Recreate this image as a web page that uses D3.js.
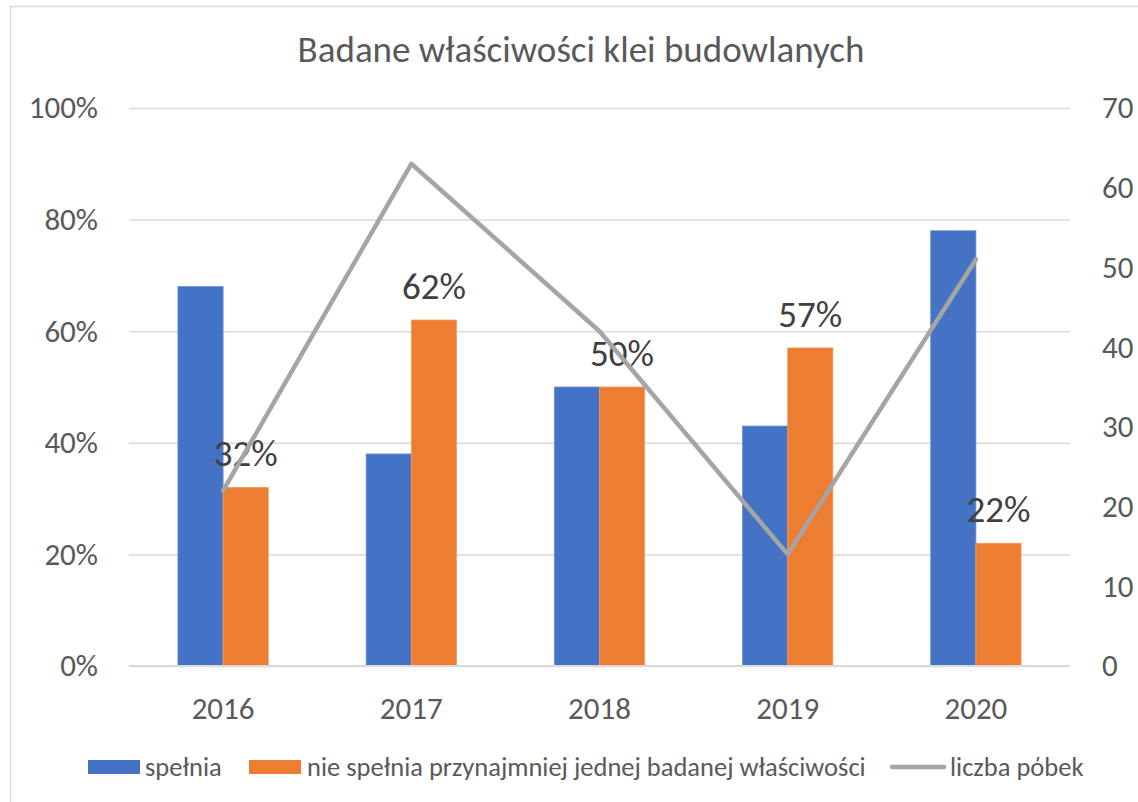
<!DOCTYPE html>
<html>
<head>
<meta charset="utf-8">
<script src="https://cdn.jsdelivr.net/npm/d3@7"></script>
<style>
  body { margin: 0; background: #fff; }
  svg text { font-family: Calibri, Carlito, Lato, sans-serif; }
</style>
</head>
<body>
<svg id="chart" width="1138" height="802"></svg>
<script>
var years = ["2016", "2017", "2018", "2019", "2020"];
var spelnia = [0.68, 0.38, 0.50, 0.43, 0.78];
var nieSpelnia = [0.32, 0.62, 0.50, 0.57, 0.22];
var liczbaProbek = [22, 63, 42, 14, 51];
var leftTicks = [0, 0.2, 0.4, 0.6, 0.8, 1.0];
var rightTicks = [0, 10, 20, 30, 40, 50, 60, 70];
var seriesNames = ["spełnia", "nie spełnia przynajmniej jednej badanej właściwości", "liczba pόbek"];
var title = "Badane właściwości klei budowlanych";

var colors = ["#4472C4", "#ED7D31", "#A5A5A5"];

var svg = d3.select("#chart");
var plotLeft = 129, plotRight = 1070, plotTop = 108, plotBottom = 666;

// chart border
svg.append("rect")
    .attr("x", 10.5).attr("y", 6.5)
    .attr("width", 1140).attr("height", 800)
    .attr("fill", "#fff")
    .attr("stroke", "#D9D9D9")
    .attr("stroke-width", 1.5);

svg.append("text")
    .attr("x", 581).attr("y", 62)
    .attr("text-anchor", "middle")
    .attr("font-size", 37)
    .attr("fill", "#595959")
    .text(title);

var x = d3.scaleBand().domain(years).range([plotLeft, plotRight]).paddingInner(0.52).paddingOuter(0.26);
var xSub = d3.scaleBand().domain([0, 1]).range([0, x.bandwidth()]);
var y = d3.scaleLinear().domain([0, 1]).range([plotBottom, plotTop]);
var y2 = d3.scaleLinear().domain([0, 70]).range([plotBottom, plotTop]);

// gridlines + left axis
var gy = svg.append("g").attr("transform", "translate(" + plotLeft + ",0)")
    .call(d3.axisLeft(y).tickValues(leftTicks).tickFormat(d3.format(".0%"))
        .tickSize(-(plotRight - plotLeft)).tickPadding(31));
gy.select(".domain").remove();
gy.selectAll("line").attr("stroke", "#D9D9D9").attr("stroke-width", 1.5);
gy.selectAll("text").attr("font-size", 31).attr("fill", "#595959")
    .style("font-family", "Calibri, Carlito, Lato, sans-serif");

// right axis
var gy2 = svg.append("g").attr("transform", "translate(" + plotRight + ",0)")
    .call(d3.axisRight(y2).tickValues(rightTicks).tickSize(0).tickPadding(32));
gy2.select(".domain").remove();
gy2.selectAll("text").attr("font-size", 31).attr("fill", "#595959")
    .style("font-family", "Calibri, Carlito, Lato, sans-serif");

// bars
var groups = svg.selectAll(".year")
    .data(years)
    .enter()
    .append("g")
    .attr("class", "year")
    .attr("transform", function(d) { return "translate(" + x(d) + ",0)"; });

groups.append("rect")
    .attr("x", xSub(0))
    .attr("y", function(d, i) { return y(spelnia[i]); })
    .attr("width", xSub.bandwidth())
    .attr("height", function(d, i) { return plotBottom - y(spelnia[i]); })
    .attr("fill", colors[0])
    .attr("stroke", "#6C8FD0").attr("stroke-width", 0.8);

groups.append("rect")
    .attr("x", xSub(1))
    .attr("y", function(d, i) { return y(nieSpelnia[i]); })
    .attr("width", xSub.bandwidth())
    .attr("height", function(d, i) { return plotBottom - y(nieSpelnia[i]); })
    .attr("fill", colors[1])
    .attr("stroke", "#F29A5E").attr("stroke-width", 0.8);

// baseline
svg.append("line")
    .attr("x1", plotLeft).attr("x2", plotRight)
    .attr("y1", plotBottom).attr("y2", plotBottom)
    .attr("stroke", "#D9D9D9").attr("stroke-width", 2);

// x labels
svg.selectAll(".xlab")
    .data(years)
    .enter()
    .append("text")
    .attr("class", "xlab")
    .attr("x", function(d) { return x(d) + x.bandwidth() / 2; })
    .attr("y", 719)
    .attr("text-anchor", "middle")
    .attr("font-size", 31)
    .attr("fill", "#595959")
    .text(function(d) { return d; });

// line
var line = d3.line()
    .x(function(d, i) { return x(years[i]) + x.bandwidth() / 2; })
    .y(function(d) { return y2(d); });

svg.append("path")
    .datum(liczbaProbek)
    .attr("d", line)
    .attr("fill", "none")
    .attr("stroke", colors[2])
    .attr("stroke-width", 4.5)
    .attr("stroke-linejoin", "round")
    .attr("stroke-linecap", "round");

// data labels on orange bars
groups.append("text")
    .attr("x", xSub(1) + xSub.bandwidth() / 2)
    .attr("y", function(d, i) { return y(nieSpelnia[i]) - 21; })
    .attr("text-anchor", "middle")
    .attr("font-size", 37)
    .attr("fill", "#404040")
    .text(function(d, i) { return d3.format(".0%")(nieSpelnia[i]); });

// legend
var legend = svg.append("g").attr("transform", "translate(0,767)");
legend.append("rect").attr("x", 88).attr("y", -7).attr("width", 52).attr("height", 14).attr("fill", colors[0]);
legend.append("text").attr("x", 145).attr("y", 9).attr("font-size", 26.5).attr("fill", "#595959").text(seriesNames[0]);
legend.append("rect").attr("x", 249).attr("y", -7).attr("width", 52).attr("height", 14).attr("fill", colors[1]);
legend.append("text").attr("x", 307).attr("y", 9).attr("font-size", 26.5).attr("fill", "#595959").text(seriesNames[1]);
legend.append("line").attr("x1", 892).attr("x2", 944).attr("y1", 0).attr("y2", 0)
    .attr("stroke", colors[2]).attr("stroke-width", 4.5).attr("stroke-linecap", "round");
legend.append("text").attr("x", 950).attr("y", 9).attr("font-size", 26.5).attr("fill", "#595959").text(seriesNames[2]);
</script>
</body>
</html>
